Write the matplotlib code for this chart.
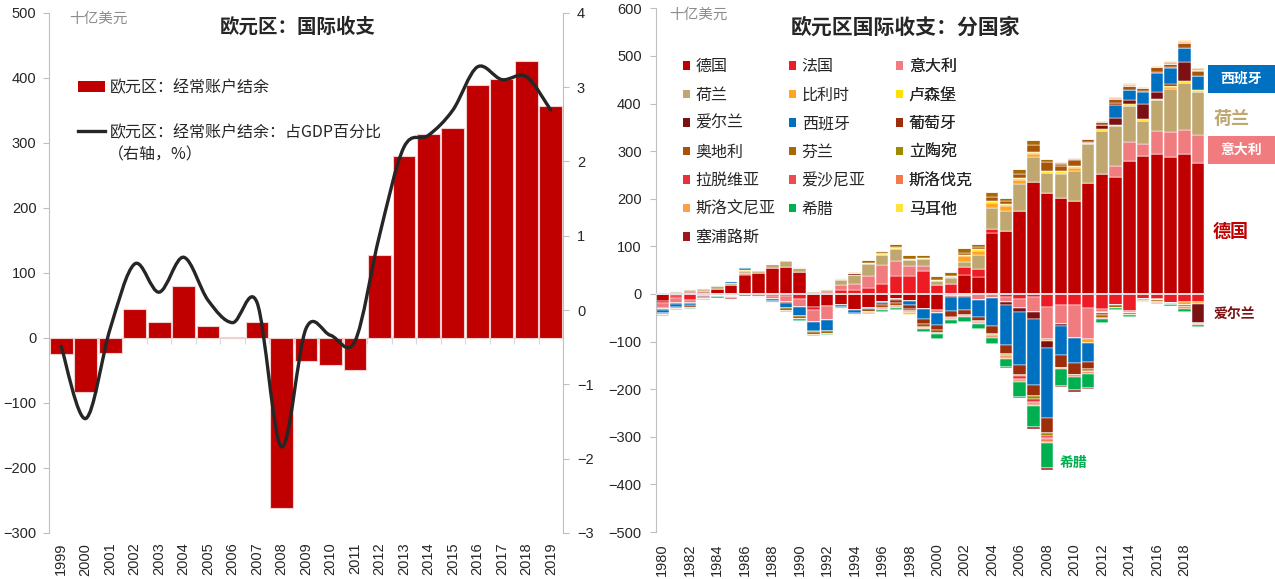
import numpy as np
import matplotlib.pyplot as plt
from matplotlib.patches import Patch, PathPatch, Rectangle
from matplotlib.path import Path
from matplotlib.lines import Line2D

plt.rcParams['font.family'] = ['Noto Sans CJK SC', 'DejaVu Sans']
TICKFONT = 'Liberation Sans'
GRIS = '#BFBFBF'
TXT = '#262626'

# ---------------- datos: panel izquierdo ----------------
anios_izq = list(range(1999, 2020))
ca_bn = [-25, -83, -24, 44, 25, 80, 19, 1, 25, -262, -35, -41, -49,
         127, 279, 313, 322, 389, 398, 425, 357]
ca_pct = [-0.49, -1.46, -0.25, 0.62, 0.24, 0.71, 0.13, -0.17, 0.10, -1.84,
          -0.25, -0.34, -0.42, 1.0, 2.19, 2.35, 2.69, 3.27, 3.10, 3.14, 2.69]

# ---------------- datos: panel derecho (1980-2019) ----------------
anios_der = list(range(1980, 2020))
de = [-14, -4, 5, 5, 10, 18, 39, 44, 55, 57,
      47, -28, -26, -23, -33, -30, -17, -10, -14, -32,
      -33, -4, 40, 36, 128, 133, 174, 236, 213, 202,
      196, 234, 252, 246, 280, 290, 295, 288, 294, 275]
fr = [-4, -5, -12, -5, -1, -0.3, 2.4, -4.4, -4.6, -4.7,
      -10, -6.5, 4, 9, 9, 13, 20, 38, 38, 48,
      18, 21, 16, 17, 8, -6, -10, -7, -28, -23,
      -23, -29, -32, -23, -36, -10, -11, -18, -16, -17]
it = [-12, -10, -7, 1.4, -2.3, -3.8, 2.5, -1.7, -6.3, -13,
      -17, -25, -29, 9, 12, 24, 41, 32, 21, 10,
      -6, -1, -5, -12, -8, -10, -20, -30, -66, -40,
      -70, -65, -6, 23, 39, 25, 48, 52, 50, 59]
nl = [-1.8, 5, 4, 5, 6.5, 5, 5, 4, 7, 12,
      7, 5, 5, 12, 18, 25, 21, 25, 12, 15,
      9, 12, 11, 29, 44, 42, 57, 51, 41, 49,
      62, 80, 91, 84, 76, 49, 64, 90, 100, 91]
be = [0, 0, 0, 0, 0, 0, 0, 0, 0, 0,
      0, 0, 0, 0, 0, 0, 0, 0, 0, 0,
      0, 2.5, 12, 9, 12, 10, 8, 7, -5, 3,
      7, -10, -1, -1, -4, -1, -1, 4, -7, -5]
lu = [0.3, 1, 1, 0.8, 1.2, 1, 1.5, 1.5, 1.5, 1.5,
      1, 1, 1, 1.5, 1.5, 2, 2, 1.7, 1.5, 1.6,
      2.5, 1.2, 2.2, 3, 4, 3.5, 4, 4, 5, 4,
      3.5, 3.5, 3, 2, 3, 3, 3, 3, 3, 3]
ie = [-2.2, -2.8, -2.4, -1.3, -1, -0.8, -0.8, 0, 0, -0.6,
      -0.3, 0.4, 0.4, 1.8, 2.5, 1.7, 2.1, 2.2, 1, 0.3,
      -0.4, -0.8, -1.2, -0.5, -0.6, -7, -7, -15, -15, -5,
      1, 2, 9, 14, 9, 33, 14, 3, 40, -38]
es = [-5, -5, -4, -2.7, 2, 2.8, 3.9, 0, -3.8, -11,
      -18, -19, -22, -5, -6, -1.8, -3, -3, -9, -21,
      -25, -30, -28, -35, -58, -84, -112, -140, -147, -60,
      -52, -39, -2, 28, 22, 25, 40, 34, 29, 29]
pt = [-1.1, -2.6, -3.2, -1.6, -0.5, 0.4, 1.2, 0.4, -1.1, 0.2,
      -0.2, -0.7, -0.2, 0.2, -2.2, -0.1, -4, -6, -8, -10,
      -12, -12, -11, -10, -17, -19, -21, -22, -31, -27,
      -25, -14, -4, 3.5, 0.3, 0.4, 2.4, 2.4, 1.1, -0.2]
at = [-1.8, -1.4, 1.2, 0.3, -0.2, -0.2, 0.3, -0.2, -0.3, 0.3,
      1.2, 0.1, -1.2, -2, -3.5, -6, -5.6, -6, -4, -6.6,
      -5.3, -2.6, 5.6, 4.7, 6.8, 6.4, 9.8, 14.9, 18.5, 10.4,
      11.6, 6.6, 6.4, 8.2, 6.7, 6.8, 10.1, 5.9, 10.7, 11.2]
fi = [-1.4, -0.2, -0.8, -0.9, 0, -0.8, -0.7, -1.9, -2.7, -6,
      -6.9, -6.8, -4.9, -1.1, 1.1, 5.2, 4.5, 6.8, 7.3, 7.6,
      8.8, 9.5, 10, 6.1, 11.6, 6.9, 9.4, 10.5, 6.4, 4.9,
      2.9, -4.5, -5.2, -4.8, -3.2, -2, -4, -2, -5, -2.4]
lt = [0, 0, 0, 0, 0, 0, 0, 0, 0, 0,
      0, 0, 0, 0, 0, -0.6, -0.7, -1, -1.3, -1.2,
      -0.7, -0.6, -0.7, -1.2, -1.7, -1.8, -3.2, -5.7, -6.3, 0.9,
      0, -1.8, -0.5, 0.4, 1.5, -1, -0.4, 0.4, 0.1, 1.9]
lv = [0, 0, 0, 0, 0, 0, 0, 0, 0, 0,
      0, 0, 0, 0, 0, -0.2, -0.3, -0.3, -0.6, -0.7,
      -0.4, -0.6, -0.6, -0.9, -1.6, -2, -4.5, -6.4, -4.5, 2,
      0.5, -0.9, -1, -0.7, -0.5, -0.2, 0.4, 0.4, -0.2, -0.2]
ee = [0, 0, 0, 0, 0, 0, 0, 0, 0, 0,
      0, 0, 0, 0, 0, -0.2, -0.4, -0.5, -0.4, -0.2,
      -0.3, -0.4, -0.9, -1.1, -1.4, -1.3, -2.6, -3.7, -2.2, 0.5,
      0.4, 0.3, -0.4, 0.1, 0.2, 0.4, 0.3, 0.8, 0.6, 0.6]
sk = [0, 0, 0, 0, 0, 0, 0, 0, 0, 0,
      0, 0, 0, -0.6, 0.7, 0.4, -2.1, -1.9, -2.1, -1,
      -0.7, -1.8, -2, -1.6, -3.3, -3.9, -4.4, -4, -6.2, -3.1,
      -4.1, -4.9, 0.9, 1.9, 1.1, -1.7, -2.3, -1.9, -2.6, -3]
si = [0, 0, 0, 0, 0, 0, 0, 0, 0, 0,
      0, 0, 0, 0.2, 0.6, -0.1, 0.1, 0.1, -0.1, -0.7,
      -0.6, 0.1, 0.3, -0.2, -0.9, -0.7, -0.7, -1.9, -2.9, -0.3,
      -0.1, 0.1, 1.2, 2.1, 2.8, 1.9, 2, 3.4, 3.3, 3.2]
gr = [-2.2, -2.4, -1.9, -1.9, -2.1, -3.3, -1.7, -1.2, -1, -2.6,
      -3.5, -1.6, -2.1, -0.7, -0.1, -2.9, -4.6, -4.8, -3.6, -6.5,
      -10, -9.4, -10, -11, -12, -18, -31, -44, -52, -35,
      -28, -29, -8, -4.6, -3.9, -1.5, -2.2, -2.1, -6.3, -3]
mt = [-0.1, -0.1, -0.1, -0.1, -0.1, -0.1, 0, 0, 0, -0.1,
      -0.1, -0.1, 0, -0.1, -0.1, -0.4, -0.4, -0.2, -0.2, -0.1,
      -0.5, -0.2, 0.1, -0.1, -0.3, -0.5, -0.6, -0.5, -0.4, -0.6,
      -0.4, 0, 0.2, 0.5, 1, 0.3, 0.5, 1.3, 1.3, 1]
cy = [-0.3, -0.3, -0.2, -0.2, -0.3, -0.3, -0.1, 0.1, 0, -0.3,
      -0.4, -0.3, -0.6, 0.1, 0, -0.2, -0.4, -0.3, -0.6, -0.2,
      -0.4, -0.3, -0.4, -0.3, -0.8, -0.8, -1.3, -2.7, -3.9, -1.7,
      -2.6, -1, -1.5, -0.4, -0.8, -0.3, -1, -1.1, -1.1, -1.6]

paises = [
    ('德国', de, '#C00000'), ('法国', fr, '#ED1C24'), ('意大利', it, '#F07C80'),
    ('荷兰', nl, '#BFA76F'), ('比利时', be, '#FFA51F'), ('卢森堡', lu, '#FFE100'),
    ('爱尔兰', ie, '#7B1113'), ('西班牙', es, '#0070C0'), ('葡萄牙', pt, '#9C2E0C'),
    ('奥地利', at, '#A8520A'), ('芬兰', fi, '#A86A00'), ('立陶宛', lt, '#9C8A00'),
    ('拉脱维亚', lv, '#E8303A'), ('爱沙尼亚', ee, '#EE4B50'), ('斯洛伐克', sk, '#F47A4E'),
    ('斯洛文尼亚', si, '#F9A04E'), ('希腊', gr, '#00B050'), ('马耳他', mt, '#FFE33B'),
    ('塞浦路斯', cy, '#A3141C'),
]


def curva_suave(x, y):
    # linea suavizada estilo Excel (Catmull-Rom -> Bezier)
    p = np.column_stack([x, y]).astype(float)
    n = len(p)
    verts, codes = [p[0]], [Path.MOVETO]
    for i in range(n - 1):
        p0 = p[i - 1] if i > 0 else p[i]
        p3 = p[i + 2] if i + 2 < n else p[i + 1]
        verts += [p[i] + (p[i + 1] - p0) / 6, p[i + 1] - (p3 - p[i]) / 6, p[i + 1]]
        codes += [Path.CURVE4] * 3
    return Path(verts, codes)


def estilo_ticks(ax, lado):
    for lbl in ax.get_yticklabels() + ax.get_xticklabels():
        lbl.set_fontfamily(TICKFONT)
        lbl.set_fontsize(10.5)
        lbl.set_color(TXT)


W, H = 1275, 579
fig = plt.figure(figsize=(W / 100, H / 100), dpi=100)

# ================= panel izquierdo =================
ax = fig.add_axes([49 / W, 1 - 533 / H, (563 - 49) / W, (533 - 12.7) / H])
xi = np.arange(len(anios_izq))
ax.bar(xi, ca_bn, width=0.93, color='#C00000', edgecolor='#F2D0D0', linewidth=0.8, zorder=2)
ax.set_xlim(-0.5, len(anios_izq) - 0.5)
ax.set_ylim(-300, 500)
ax.set_yticks(range(-300, 501, 100))
ax.set_xticks(xi)
ax.set_xticklabels([str(a) for a in anios_izq], rotation=90)
ax.tick_params(axis='x', length=0, pad=7)
ax.tick_params(axis='y', length=4, color=GRIS, pad=5)
for s in ['top', 'right', 'bottom']:
    ax.spines[s].set_visible(False)
ax.spines['left'].set_color(GRIS)
estilo_ticks(ax, 'l')

# eje cero con marcas entre categorias
sec = ax.secondary_xaxis(300 / 800)
sec.set_xticks(xi[:-1] + 0.5)
sec.tick_params(axis='x', length=4, color='#D9D9D9', labelbottom=False, direction='out')
sec.spines['bottom'].set_color('#D9D9D9')

ax2 = ax.twinx()
ax2.set_ylim(-3, 4)
ax2.set_yticks(range(-3, 5))
ax2.tick_params(axis='y', length=4, color=GRIS, pad=6)
for s in ['top', 'left', 'bottom']:
    ax2.spines[s].set_visible(False)
ax2.spines['right'].set_color(GRIS)
estilo_ticks(ax2, 'r')
ax2.add_patch(PathPatch(curva_suave(xi, ca_pct), fill=False, edgecolor='#262626',
                        linewidth=2.4, capstyle='round', zorder=3))

handles_l = [Patch(facecolor='#C00000', edgecolor='none'),
             Line2D([], [], color='#262626', linewidth=2.4)]
leg = ax.legend(handles_l, ['欧元区：经常账户结余', '欧元区：经常账户结余：占GDP百分比'],
                loc='upper left', bbox_to_anchor=(78 / W, 1 - 79 / H), bbox_transform=fig.transFigure,
                frameon=False, fontsize=11.5, handlelength=1.7, handletextpad=0.3,
                labelspacing=1.75, borderpad=0, borderaxespad=0)
for t in leg.get_texts():
    t.set_color(TXT)
fig.text(108 / W, 1 - 155 / H, '（右轴，%）', fontsize=11.5, color=TXT, va='center')
fig.text(69 / W, 1 - 19 / H, '十亿美元', fontsize=10.5, color='#8C8C8C', va='center')
fig.text(298 / W, 1 - 27 / H, '欧元区：国际收支', fontsize=14, color=TXT, ha='center',
         va='center', fontweight='bold')

# ================= panel derecho =================
bx = fig.add_axes([655.5 / W, 1 - 532 / H, (1205 - 655.5) / W, (532 - 8.3) / H])
xr = np.arange(len(anios_der))
base_pos = np.zeros(len(xr))
base_neg = np.zeros(len(xr))
for nombre, vals, color in paises:
    v = np.array(vals, dtype=float)
    vp = np.where(v > 0, v, 0)
    vn = np.where(v < 0, v, 0)
    bx.bar(xr, vp, bottom=base_pos, width=0.91, color=color, edgecolor='white', linewidth=0.35, zorder=2)
    bx.bar(xr, vn, bottom=base_neg, width=0.91, color=color, edgecolor='white', linewidth=0.35, zorder=2)
    base_pos += vp
    base_neg += vn
bx.axhline(0, color='#E6E6E6', linewidth=1.3, zorder=3)
bx.set_xlim(-0.5, len(anios_der) - 0.5)
bx.set_ylim(-500, 600)
bx.set_yticks(range(-500, 601, 100))
bx.set_xticks(xr[::2])
bx.set_xticklabels([str(a) for a in anios_der[::2]], rotation=90)
bx.tick_params(axis='x', length=0, pad=8)
bx.tick_params(axis='y', length=4, color=GRIS, pad=6)
for s in ['top', 'right', 'bottom']:
    bx.spines[s].set_visible(False)
bx.spines['left'].set_color(GRIS)
estilo_ticks(bx, 'l')

# leyenda en tres columnas
col_x = [683, 789, 896]
for c in range(3):
    sub = paises[c::3]
    hs = [Patch(facecolor=p[2], edgecolor='none') for p in sub]
    lg = bx.legend(hs, [p[0] for p in sub], loc='upper left',
                   bbox_to_anchor=(col_x[c] / W, 1 - 58 / H), bbox_transform=fig.transFigure,
                   frameon=False, fontsize=11.5, handlelength=0.45, handleheight=0.45,
                   handletextpad=0.35, labelspacing=0.72, borderpad=0, borderaxespad=0)
    for t in lg.get_texts():
        t.set_color(TXT)
    bx.add_artist(lg)

fig.text(669 / W, 1 - 15 / H, '十亿美元', fontsize=10.5, color='#8C8C8C', va='center')
fig.text(905 / W, 1 - 27 / H, '欧元区国际收支：分国家', fontsize=15, color=TXT, ha='center',
         va='center', fontweight='bold')

# etiquetas de la derecha
fig.patches.append(Rectangle((1208 / W, 1 - 93 / H), 67 / W, 28 / H, transform=fig.transFigure,
                             facecolor='#0070C0', edgecolor='none'))
fig.patches.append(Rectangle((1208 / W, 1 - 164 / H), 67 / W, 28 / H, transform=fig.transFigure,
                             facecolor='#F07C80', edgecolor='none'))
fig.text(1241 / W, 1 - 79 / H, '西班牙', fontsize=10, color='white', ha='center', va='center', fontweight='bold')
fig.text(1232 / W, 1 - 118 / H, '荷兰', fontsize=13, color='#BFA76F', ha='center', va='center', fontweight='bold')
fig.text(1241 / W, 1 - 150 / H, '意大利', fontsize=10, color='white', ha='center', va='center', fontweight='bold')
fig.text(1231 / W, 1 - 232 / H, '德国', fontsize=13, color='#C00000', ha='center', va='center', fontweight='bold')
fig.text(1234 / W, 1 - 315 / H, '爱尔兰', fontsize=10, color='#7B1113', ha='center', va='center', fontweight='bold')
bx.text(28.9, -355, '希腊', fontsize=10, color='#00B050', ha='left', va='center', fontweight='bold')

fig.savefig('out.png', dpi=100)
